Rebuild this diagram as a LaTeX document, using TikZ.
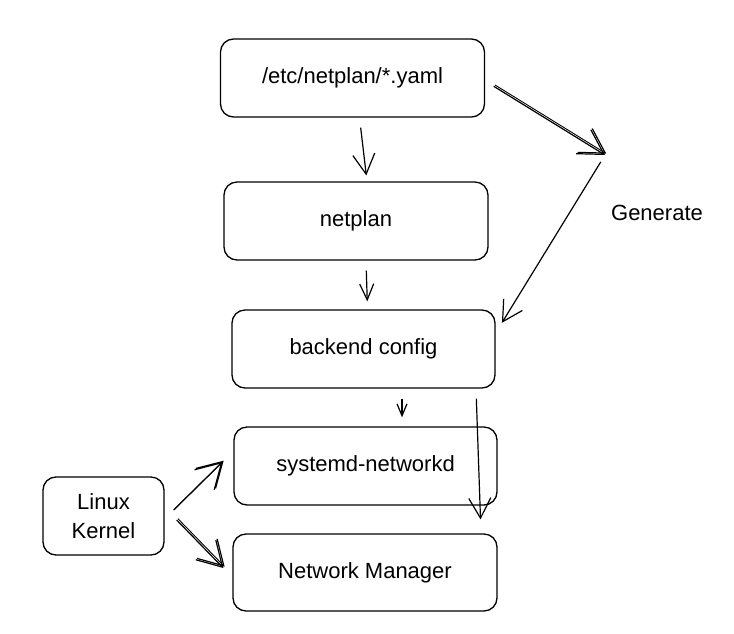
\documentclass[tikz,border=0pt]{standalone}
\usepackage{fontspec}
\setmainfont{Liberation Sans}
\usetikzlibrary{arrows.meta,calc}
\tikzset{
  box/.style={draw, rounded corners=13pt, line width=1.3pt, minimum width=#1, minimum height=78pt, inner sep=0pt, font=\fontsize{22}{26}\selectfont},
  box/.default=264pt,
  conn/.style={line width=1.2pt, -{Straight Barb[length=20pt,width=22pt,line width=1.2pt]}},
  bconn/.style={line width=1.2pt, -{Straight Barb[length=24pt,width=28pt,line width=1.2pt]}},
  mconn/.style={line width=1.2pt, -{Straight Barb[length=16pt,width=14pt,line width=1.2pt]}},
  sconn/.style={line width=1.2pt, -{Straight Barb[length=12pt,width=10pt,line width=1.2pt]}},
  dbl/.style={postaction={draw, line width=0.9pt, transform canvas={shift={(1.3pt,1.3pt)}}}},
  lbl/.style={font=\fontsize{22}{26}\selectfont}
}
\begin{document}
\begin{tikzpicture}[x=1pt,y=-1pt]
\useasboundingbox (0,0) rectangle (734,633);
\node[box] (yaml) at (352.5,78) {/etc/netplan/*.yaml};
\node[box] (netplan) at (356,221) {netplan};
\node[box=263pt] (backend) at (363.5,349) {backend config};
\node[box=263pt] (systemd) at (365.5,466) {systemd-networkd};
\node[box, minimum height=77pt] (nm) at (365,572.5) {Network Manager};
\node[box=121pt, align=center, font=\fontsize{22}{29}\selectfont] (kernel) at (103.5,516) {Linux\\Kernel};
\coordinate (g) at (605,155);
\node[lbl] (gen) at (657,213) {Generate};

\draw[conn, shorten <=10pt, shorten >=6pt] ([xshift=7pt]yaml.south) -- ([xshift=11pt]netplan.north);
\draw[mconn, shorten <=10pt, shorten >=8pt] ([xshift=10pt]netplan.south) -- ([xshift=4pt]backend.north);
\draw[sconn, shorten <=10pt, shorten >=9pt] ([xshift=38.5pt]backend.south) -- ([xshift=36.5pt]systemd.north);
\draw[conn, shorten <=10pt, shorten >=14pt] ([xshift=112.5pt]backend.south) -- ([xshift=116pt]nm.north);
\draw[bconn, dbl, shorten <=10pt] ([yshift=-3pt]yaml.east) -- (g);
\draw[conn, shorten <=8pt, shorten >=12pt] (g) -- ([yshift=16pt]backend.east);
\draw[bconn, dbl] ([shift={(9pt,6pt)}]kernel.east) -- ([shift={(-11pt,4pt)}]systemd.west);
\draw[bconn, dbl] ([shift={(12pt,-4pt)}]kernel.east) -- ([shift={(-9pt,4.5pt)}]nm.west);
\end{tikzpicture}
\end{document}
